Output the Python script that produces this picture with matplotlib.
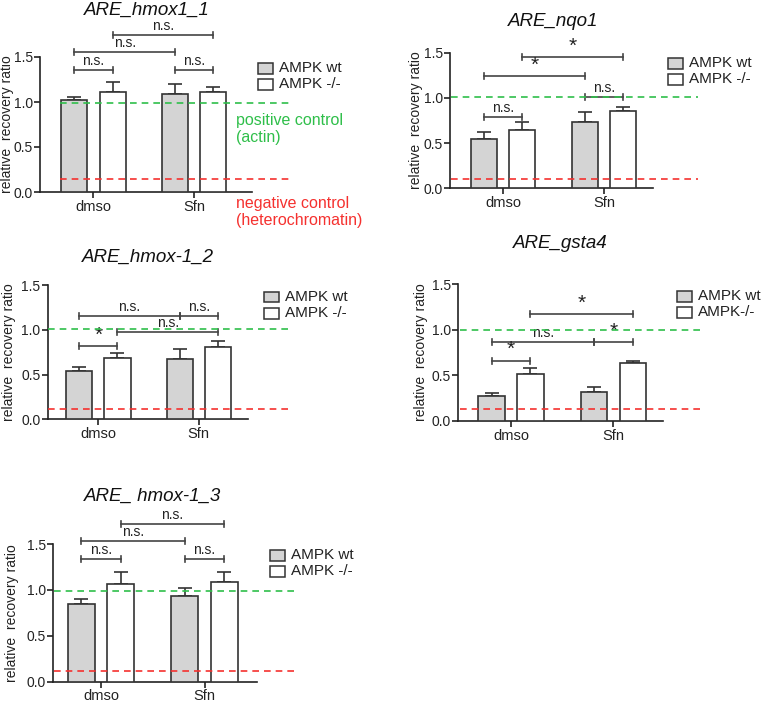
import numpy as np
import matplotlib
matplotlib.use("Agg")
import matplotlib.pyplot as plt
from matplotlib.patches import Rectangle

plt.rcParams['font.family'] = ['Liberation Sans', 'DejaVu Sans']

W, H = 763, 702

# data
titles = ["ARE_hmox1_1", "ARE_nqo1", "ARE_hmox-1_2", "ARE_gsta4", "ARE_ hmox-1_3"]
groups = ["dmso", "Sfn"]
legend_wt = ["AMPK wt"] * 5
legend_ko = ["AMPK -/-", "AMPK -/-", "AMPK -/-", "AMPK-/-", "AMPK -/-"]

wt_dmso = [1.02, 0.54, 0.54, 0.27, 0.85]
wt_dmso_err = [0.04, 0.08, 0.04, 0.04, 0.05]
ko_dmso = [1.11, 0.65, 0.69, 0.52, 1.06]
ko_dmso_err = [0.11, 0.08, 0.05, 0.06, 0.14]
wt_sfn = [1.085, 0.73, 0.67, 0.32, 0.93]
wt_sfn_err = [0.11, 0.11, 0.11, 0.055, 0.09]
ko_sfn = [1.11, 0.86, 0.81, 0.63, 1.09]
ko_sfn_err = [0.06, 0.04, 0.06, 0.03, 0.10]

pos_ctrl = [0.99, 1.01, 1.01, 1.00, 0.99]
neg_ctrl = [0.14, 0.10, 0.11, 0.13, 0.12]

# bar index: 0 wt dmso, 1 ko dmso, 2 wt sfn, 3 ko sfn
brackets = [
    [(0, 1, 1.36, "n.s."), (2, 3, 1.36, "n.s."), (0, 2, 1.56, "n.s."), (1, 3, 1.75, "n.s.")],
    [(0, 1, 0.79, "n.s."), (2, 3, 1.01, "n.s."), (0, 2, 1.24, "*"), (1, 3, 1.45, "*")],
    [(0, 1, 0.82, "*"), (1, 3, 0.98, "n.s."), (0, 2, 1.15, "n.s."), (2, 3, 1.15, "n.s.")],
    [(0, 1, 0.66, "*"), (0, 2, 0.86, "n.s."), (2, 3, 0.86, "*"), (1, 3, 1.17, "*")],
    [(0, 1, 1.34, "n.s."), (2, 3, 1.34, "n.s."), (0, 2, 1.53, "n.s."), (1, 3, 1.72, "n.s.")],
]

# layout (pixels): left, right, top(1.5), bottom(0.0)
boxes = [(40, 252, 57, 192), (450, 653, 52.7, 188.3), (47.5, 248, 285, 419.3),
         (458, 663, 284, 421), (53, 257, 544, 681.7)]
xlims = [(-0.532, 1.577), (-0.525, 1.485), (-0.507, 1.49), (-0.517, 1.483), (-0.464, 1.507)]
line_x = [(-0.33, 1.955), (-0.52, 1.93), (-0.5, 1.94), (-0.5, 1.89), (-0.45, 1.87)]
title_pos = [(147, 10), (553, 21), (148, 257), (560, 243), (153, 496)]
leg_pos = [(258, 63), (668, 58), (264, 292), (677, 291), (270, 550)]
ylab_x = [14, 423, 16, 428, 19]

gray = "#d4d4d4"
edge = "#333333"
green = "#2fbf4a"
red = "#f5312f"
off = 0.19
bw = 0.26

fig = plt.figure(figsize=(W / 100, H / 100), dpi=100)


def fx(x):
    return x / W


def fy(y):
    return 1 - y / H


for i in range(5):
    l, r, t, b = boxes[i]
    ax = fig.add_axes([fx(l), fy(b), (r - l) / W, (b - t) / H])
    ax.set_xlim(*xlims[i])
    ax.set_ylim(0, 1.5)
    ppu = (b - t) / 1.5

    xs = [0 - off, 0 + off, 1 - off, 1 + off]
    vals = [wt_dmso[i], ko_dmso[i], wt_sfn[i], ko_sfn[i]]
    errs = [wt_dmso_err[i], ko_dmso_err[i], wt_sfn_err[i], ko_sfn_err[i]]
    cols = [gray, "white", gray, "white"]
    ax.bar(xs, vals, width=bw, color=cols, edgecolor=edge, linewidth=1.2, zorder=3)
    ax.errorbar(xs, vals, yerr=[np.zeros(4), errs], fmt="none", ecolor=edge,
                elinewidth=1.2, capsize=5, capthick=1.2, zorder=2)

    ax.plot(line_x[i], [pos_ctrl[i]] * 2, color=green, lw=1.2, ls=(0, (4, 3)),
            clip_on=False, zorder=4)
    ax.plot(line_x[i], [neg_ctrl[i]] * 2, color=red, lw=1.2, ls=(0, (4, 3)),
            clip_on=False, zorder=4)

    cap = 3 / ppu
    for a, c, y, lab in brackets[i]:
        x0, x1 = xs[a], xs[c]
        ax.plot([x0, x1], [y, y], color="#444444", lw=1.2, clip_on=False)
        ax.plot([x0, x0], [y - cap, y + cap], color="#444444", lw=1.2, clip_on=False)
        ax.plot([x1, x1], [y - cap, y + cap], color="#444444", lw=1.2, clip_on=False)
        if lab == "*":
            ax.text((x0 + x1) / 2, y + 11 / ppu, "*", ha="center", va="center",
                    fontsize=15, color="#222222")
        else:
            ax.text((x0 + x1) / 2, y + 2 / ppu, lab, ha="center", va="bottom",
                    fontsize=10, color="#222222")

    for s in ["top", "right"]:
        ax.spines[s].set_visible(False)
    for s in ["left", "bottom"]:
        ax.spines[s].set_linewidth(1.2)
        ax.spines[s].set_color("#222222")
    ax.set_yticks([0, 0.5, 1.0, 1.5])
    ax.set_yticklabels(["0.0", "0.5", "1.0", "1.5"])
    ax.set_xticks([0, 1])
    ax.set_xticklabels(groups)
    ax.tick_params(axis="y", length=4, width=1.2, pad=1, labelsize=10, colors="#222222")
    ax.tick_params(axis="x", length=4, width=1.2, pad=1.5, labelsize=10.5, colors="#222222")
    ax.set_ylabel("relative  recovery ratio", fontsize=10, color="#222222")
    ax.yaxis.set_label_coords((ylab_x[i] - l) / (r - l), 0.5)

    tx, ty = title_pos[i]
    fig.text(fx(tx), fy(ty), titles[i], ha="center", va="center", fontsize=13.5,
             style="italic", color="#111111")

    lx, ly = leg_pos[i]
    fig.patches.append(Rectangle((fx(lx), fy(ly + 10.5)), 15 / W, 10.5 / H, facecolor=gray,
                                 edgecolor=edge, lw=1.1, transform=fig.transFigure))
    fig.patches.append(Rectangle((fx(lx), fy(ly + 26.5)), 15 / W, 10.5 / H, facecolor="white",
                                 edgecolor=edge, lw=1.1, transform=fig.transFigure))
    fig.text(fx(lx + 21), fy(ly + 5), legend_wt[i], ha="left", va="center", fontsize=11,
             color="#222222")
    fig.text(fx(lx + 21), fy(ly + 21), legend_ko[i], ha="left", va="center", fontsize=11,
             color="#222222")

fig.text(fx(236), fy(113), "positive control\n(actin)", ha="left", va="top",
         fontsize=11.5, color=green, linespacing=1.15)
fig.text(fx(236), fy(196), "negative control\n(heterochromatin)", ha="left", va="top",
         fontsize=11.5, color=red, linespacing=1.15)

fig.savefig("out.png", dpi=100)
